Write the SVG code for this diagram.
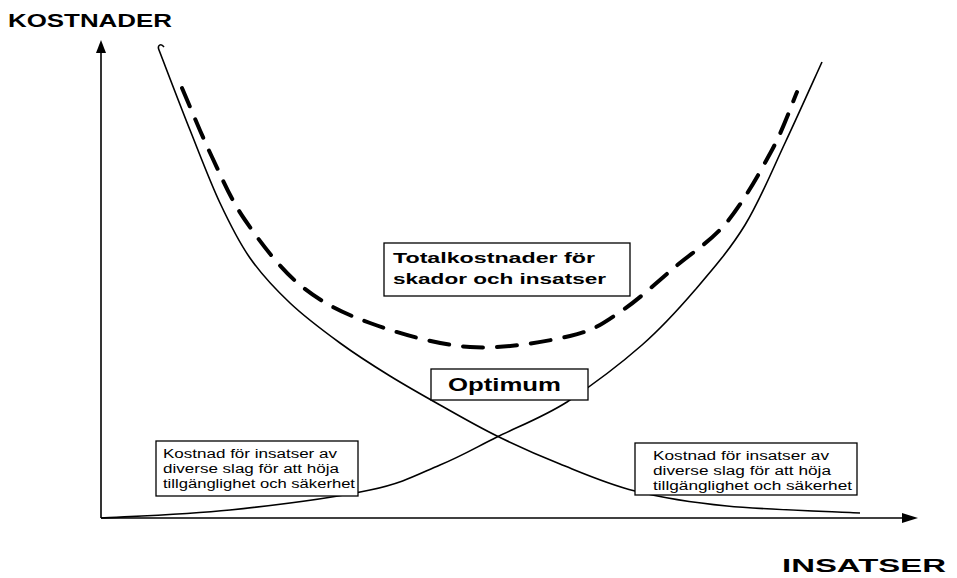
<svg xmlns="http://www.w3.org/2000/svg" width="957" height="578" viewBox="0 0 957 578">
<style>
.ax{stroke:#000;stroke-width:1.6;fill:none}
.crv{stroke:#000;stroke-width:1.6;fill:none}
.dash{stroke:#000;stroke-width:4;fill:none;stroke-dasharray:20 14;stroke-linecap:round}
.box{fill:#fff;stroke:#000;stroke-width:1.3}
.big{font-family:"Liberation Sans",Arial,sans-serif;font-weight:bold;font-size:18px;fill:#000}
.mid{font-family:"Liberation Sans",Arial,sans-serif;font-weight:bold;font-size:15px;fill:#000}
.sm{font-family:"Liberation Sans",Arial,sans-serif;font-size:12.5px;fill:#000}
</style>
<rect width="957" height="578" fill="#fff"/>
<g id="connectors">
  <g id="axes">
    <line class="ax" x1="101" y1="518" x2="101" y2="50"/>
    <polygon points="101,40 96,53 106,53" fill="#000"/>
    <line class="ax" x1="101" y1="518" x2="905" y2="518"/>
    <polygon points="918,518 902,513 902,523" fill="#000"/>
  </g>
  <path id="damage-curve" class="crv" d="M164,47 C161,43 157,45 159,50 C164.2,63.3 179.8,104.5 190,130 C200.2,155.5 210,181.7 220,203 C230,224.3 238.3,241.3 250,258 C261.7,274.7 275,288.8 290,303 C305,317.2 323.3,330.8 340,343 C356.7,355.2 373.3,365.7 390,376 C406.7,386.3 422.2,395 440,405 C457.8,415 477,426.2 497,436 C517,445.8 537,454.8 560,464 C583,473.2 607.2,484 635,491 C662.8,498 689.5,502.3 727,506 C764.5,509.7 837.8,511.8 860,513"/>
  <path id="effort-curve" class="crv" d="M101,518 C122.5,516.7 185.2,514.7 230,510 C274.8,505.3 335,497.5 370,490 C405,482.5 418.8,473.8 440,465 C461.2,456.2 475.8,447.5 497,437 C518.2,426.5 542.8,417.3 567,402 C591.2,385.8 620.7,363.7 642,345 C663.3,326.3 677.8,310 695,290 C712.2,270 730,249.5 745,225 C760,200.5 772.2,170.2 785,143 C797.8,115.8 815.8,75.5 822,62"/>
  <path id="total-curve" class="dash" d="M182,88 C187,99.5 201.5,135 212,157 C222.5,179 230.3,198.7 245,220 C259.7,241.3 279.2,267.8 300,285 C320.8,302.2 341.7,312.7 370,323 C398.3,333.3 436.7,344.8 470,347 C503.3,349.2 545,341.8 570,336 C595,330.2 602.5,323.5 620,312 C637.5,300.5 657.2,282 675,267 C692.8,252 710.8,241.5 727,222 C743.2,202.5 760.3,171.7 772,150 C783.7,128.3 792.8,101.7 797,92"/>
</g>
<g id="label-kostnader"><text class="big" x="8" y="27" textLength="164" lengthAdjust="spacingAndGlyphs">KOSTNADER</text></g>
<g id="label-insatser"><text class="big" x="782" y="572" textLength="164" lengthAdjust="spacingAndGlyphs">INSATSER</text></g>
<g id="node-total">
  <rect class="box" x="384" y="243" width="246" height="53"/>
  <text class="mid" x="393" y="263" textLength="202" lengthAdjust="spacingAndGlyphs">Totalkostnader för</text>
  <text class="mid" x="393" y="284" textLength="213" lengthAdjust="spacingAndGlyphs">skador och insatser</text>
</g>
<g id="node-optimum">
  <rect class="box" x="431" y="369" width="157" height="31"/>
  <text class="big" x="448" y="391" textLength="113" lengthAdjust="spacingAndGlyphs">Optimum</text>
</g>
<g id="node-left">
  <rect class="box" x="156" y="441" width="202" height="55"/>
  <text class="sm" x="163" y="458" textLength="174" lengthAdjust="spacingAndGlyphs">Kostnad för insatser av</text>
  <text class="sm" x="163" y="473" textLength="176" lengthAdjust="spacingAndGlyphs">diverse slag för att höja</text>
  <text class="sm" x="163" y="488" textLength="192" lengthAdjust="spacingAndGlyphs">tillgänglighet och säkerhet</text>
</g>
<g id="node-right">
  <rect class="box" x="635" y="443" width="222" height="52"/>
  <text class="sm" x="653" y="460" textLength="176" lengthAdjust="spacingAndGlyphs">Kostnad för insatser av</text>
  <text class="sm" x="653" y="475" textLength="178" lengthAdjust="spacingAndGlyphs">diverse slag för att höja</text>
  <text class="sm" x="653" y="490" textLength="199" lengthAdjust="spacingAndGlyphs">tillgänglighet och säkerhet</text>
</g>
</svg>
